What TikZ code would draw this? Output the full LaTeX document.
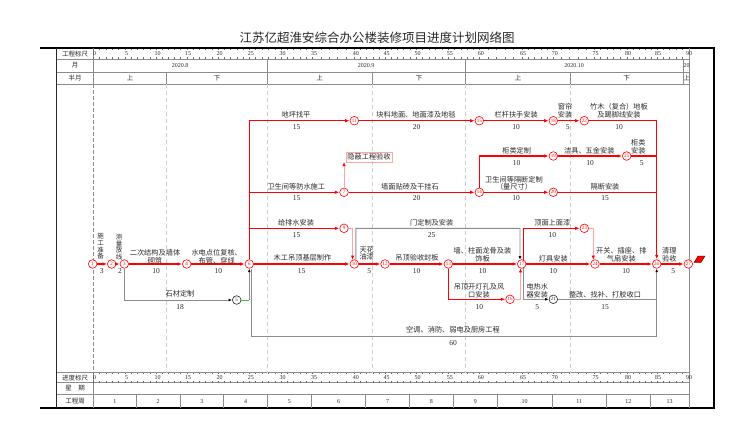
\documentclass[tikz,border=0pt]{standalone}
\usepackage{fontspec}
\setmainfont{Liberation Serif}
\newfontfamily\cjk{Noto Sans CJK SC}
\usetikzlibrary{arrows.meta}
\definecolor{cr}{RGB}{255,0,0}
\definecolor{cg}{RGB}{140,140,140}
\definecolor{cp}{RGB}{255,165,165}
\definecolor{cgrid}{RGB}{205,205,205}
\definecolor{ctx}{RGB}{40,40,40}
\definecolor{cgreen}{RGB}{60,200,60}
\begin{document}
\begin{tikzpicture}[x=1pt,y=-1pt,
  nd/.style={circle,draw=cr,line width=0.6pt,fill=white,minimum size=8.6pt,inner sep=0pt,font=\fontsize{5}{5}\selectfont,text=cr},
  ndg/.style={nd,draw=ctx,text=ctx},
  crit/.style={draw=cr,line width=1.1pt},
  critA/.style={crit,-{Latex[length=4.5pt,width=3.4pt]}},
  ncrit/.style={draw=cg,line width=0.9pt},
  ncritA/.style={ncrit,-{Latex[length=3.5pt,width=2.8pt,color=black]}},
  dummy/.style={draw=cp,line width=0.5pt,-{Latex[length=4pt,width=3.2pt,color=cr]}},
  lab/.style={font=\cjk\fontsize{7.2}{7.6}\selectfont,text=ctx,inner sep=0pt,align=center},
  vlab/.style={font=\cjk\fontsize{6.5}{6.8}\selectfont,text=ctx,inner sep=0pt,align=center},
  dur/.style={font=\fontsize{7.5}{8}\selectfont,text=ctx,inner sep=0pt},
  hdr/.style={font=\cjk\fontsize{6.5}{7}\selectfont,text=ctx,inner sep=0pt},
  rl/.style={font=\fontsize{6}{6}\selectfont,text=ctx,inner sep=0pt},
  tbl/.style={draw=cg,line width=0.5pt},
  grid/.style={draw=cgrid,line width=0.5pt,dash pattern=on 4pt off 3pt},
  tick/.style={draw=ctx!70,line width=0.3pt}
]
\useasboundingbox (0,0) rectangle (750,447);
% title
\node[font=\cjk\fontsize{12.5}{13}\selectfont,text=ctx,inner sep=0pt] (title) at (377,38) {江苏亿超淮安综合办公楼装修项目进度计划网络图};
% frame
\draw[line width=1.8pt,draw=black] (40,48) -- (714,48) -- (714,408) -- (40,408);
\draw[draw=ctx,line width=0.6pt] (56.7,48) -- (56.7,408);
\draw[tbl] (93.3,48) -- (93.3,84.3) (93.3,372.7) -- (93.3,408);
\draw[draw=cg,line width=0.6pt,dash pattern=on 4pt off 2pt] (93.3,84.3) -- (93.3,372.7);
\draw[tbl] (689,48) -- (689,408);
\foreach \yy in {59,72,84.3,372.7,382.7,394.3}{\draw[tbl] (56.7,\yy) -- (689,\yy);}
% month / half-month
\draw[tbl] (267,59) -- (267,84.3) (465.6,59) -- (465.6,84.3) (683,59) -- (683,84.3);
\draw[tbl] (166.7,72) -- (166.7,84.3) (372,72) -- (372,84.3) (570.3,72) -- (570.3,84.3);
\node[rl] (m8) at (180,65.5) {2020.8};
\node[rl] (m9) at (366,65.5) {2020.9};
\node[rl] (m10) at (574,65.5) {2020.10};
\begin{scope}
\clip (683,59) rectangle (689,84.3);
\node[rl,anchor=west] (m11) at (683.5,65.5) {20};
\node[hdr,anchor=west] (h7) at (683.5,78) {上};
\end{scope}
\node[hdr] (h1) at (130,78) {上};
\node[hdr] (h2) at (217,78) {下};
\node[hdr] (h3) at (319.5,78) {上};
\node[hdr] (h4) at (419,78) {下};
\node[hdr] (h5) at (518,78) {上};
\node[hdr] (h6) at (626.7,78) {下};
% left labels
\node[hdr] (t1) at (75,53.6) {工程标尺};
\node[hdr] (t2) at (75,65.5) {月};
\node[hdr] (t3) at (75,78) {半月};
\node[hdr] (t4) at (75,377.8) {进度标尺};
\node[hdr] (t5) at (75,388.5) {星\quad 期};
\node[hdr] (t6) at (75,401.2) {工程周};
% grid
\foreach \gx in {166.7,267,372,465.6,570.3}{\draw[grid] (\gx,84.3) -- (\gx,372.7);}
% rulers
\foreach \a/\b [count=\i from 0] in {93/125,125/156,156/186.7,186.7/218,218/249.3,249.3/281,281/312.5,312.5/354.3,354.3/385,385/416,416/448.3,448.3/479.3,479.3/521.7,521.7/553.3,553.3/594,594/626.7,626.7/656.7,656.7/688.5}{
  \pgfmathtruncatemacro\dd{5*\i}
  \foreach \k in {0,...,4}{
    \pgfmathsetmacro\tx{\a+(\b-\a)*\k/5}
    \draw[tick] (\tx,48.5) -- ++(0,1.6) (\tx,59) -- ++(0,-1.6) (\tx,372.7) -- ++(0,1.6) (\tx,382.7) -- ++(0,-1.6);
  }
  \node[rl] at (\a+1.5,53.8) {\dd};
  \node[rl] at (\a+1.5,377.8) {\dd};
}
\node[rl] (r90) at (689,53.8) {90};
\node[rl] (s90) at (689,377.8) {90};
% weeks
\foreach \a/\b [count=\w] in {93.3/136.3,136.3/179.8,179.8/223.7,223.7/267.5,267.5/311.4,311.4/365.6,365.6/409.4,409.4/453.3,453.3/497.2,497.2/552.1,552.1/606.3,606.3/650.2,650.2/689}{
  \draw[tbl] (\b,394.3) -- (\b,408);
  \node[rl] at ({(\a+\b)/2},401.2) {\w};
}
% nodes
\node[nd] (n1) at (92.7,264) {1};
\node[nd] (n2) at (111.7,264) {2};
\node[nd] (n3) at (124.3,264) {3};
\node[nd] (n4) at (186.7,264) {4};
\node[ndg] (n5) at (236.7,300) {5};
\node[nd] (n6) at (249.3,264) {6};
\node[nd] (n7) at (344,192.3) {7};
\node[nd] (n9) at (344,228.3) {9};
\node[nd] (n10) at (354.3,264) {10};
\node[nd] (n11) at (354.3,120.7) {11};
\node[nd] (n12) at (385,264) {12};
\node[nd] (n13) at (448.3,264) {13};
\node[nd] (n14) at (479.3,192.3) {14};
\node[nd] (n15) at (479.3,120.7) {15};
\node[nd] (n16) at (510,299.3) {16};
\node[nd] (n17) at (521.7,264) {17};
\node[nd] (n18) at (553.3,120.7) {18};
\node[nd] (n19) at (553.3,156) {19};
\node[nd] (n20) at (553.3,192.3) {20};
\node[ndg] (n21) at (553.3,299.3) {21};
\node[nd] (n22) at (584.3,120.7) {22};
\node[nd] (n23) at (584.3,228.3) {23};
\node[nd] (n24) at (595,264) {24};
\node[nd] (n25) at (626.7,156) {25};
\node[nd] (n26) at (656.7,264) {26};
\node[nd] (n27) at (688.3,264) {27};
\node[lab,draw=cp,line width=0.5pt,inner sep=1.3pt] (yb) at (369,157.2) {隐蔽工程验收};
% coordinates
\coordinate (c5) at (249.3,300);
\coordinate (c6a) at (251,269);
\coordinate (c6b) at (251,336);
\coordinate (c26b) at (656.7,336);
\coordinate (c26c) at (656.7,299.3);
\coordinate (c10) at (355.8,228.3);
% red connectors
\draw[critA] (n1) -- (n2);
\draw[critA] (n2) -- (n3);
\draw[critA] (n3) -- (n4);
\draw[critA] (n4) -- (n6);
\draw[critA] (n6) |- (n11);
\draw[critA] (n6) |- (n7);
\draw[critA] (n6) |- (n9);
\draw[critA] (n6) -- (n10);
\draw[critA] (n11) -- (n15);
\draw[critA] (n15) -- (n18);
\draw[critA] (n18) -- (n22);
\draw[critA] (n22) -| (n26);
\draw[critA] (n7) -- (n14);
\draw[critA] (n14) |- (n19);
\draw[critA] (n14) -- (n20);
\draw[critA] (n19) -- (n25);
\draw[crit] (n25) -| (c26b |- n25);
\draw[crit] (n20) -| (c26b |- n20);
\draw[critA] (n10) -- (n12);
\draw[critA] (n12) -- (n13);
\draw[critA] (n13) -- (n17);
\draw[critA] (n13) |- (n16);
\draw[critA] (n17.70) |- (n23);
\draw[critA] (n17) -- (n24);
\draw[critA] (n24) -- (n26);
\draw[critA] (n26) -- (n27);
% gray connectors
\draw[ncritA] (n3) |- (n5);
\draw[draw=cgreen,line width=0.8pt] (n5) -- (c5);
\draw[ncritA] (c5) -- (n6);
\draw[ncrit] (c6a) -- (c6b) -- (c26b) -- (c26c);
\draw[ncritA] (n10.70) -- (c10) -- (c10 -| n17.112) -- (n17.112);
\draw[ncritA] (n17.290) |- (n21);
\draw[ncritA] (n21) -| (n26);
% dummies
\draw[dummy] (n7) -- (n7 |- yb.south);
\draw[dummy] (n9) -| (n10.112);
\draw[dummy] (n16) -| (n17.255);
\draw[dummy] (n23) -| (n24.112);
% end flag
\fill[cr,draw=black,line width=0.3pt] (694,262.5) -- (701,262.5) -- (705,256) -- (698,256) -- cycle;
% labels
\node[vlab] (l1) at (100.7,246.3) {施\\工\\准\\备};
\node[dur] (d1) at (101.7,270.7) {3};
\node[vlab] (l2) at (119,247) {测\\量\\放\\线};
\node[dur] (d2) at (120,270.7) {2};
\node[lab] (l3) at (155,256.8) {二次结构及墙体\\砌筑};
\node[dur] (d3) at (156,270.7) {10};
\node[lab] (l4) at (216.7,256.8) {水电点位复核、\\布管、穿线};
\node[dur] (d4) at (218.3,270.7) {10};
\node[lab] (l5) at (180,293.3) {石材定制};
\node[dur] (d5) at (180,307.3) {18};
\node[lab] (l6) at (302.5,257.7) {木工吊顶基层制作};
\node[dur] (d6) at (301.7,270.7) {15};
\node[lab] (l7) at (296,222.7) {给排水安装};
\node[dur] (d7) at (296.7,235) {15};
\node[lab] (l8) at (296.3,186.7) {卫生间等防水施工};
\node[dur] (d8) at (296.7,198.3) {15};
\node[lab] (l9) at (296,115) {地坪找平};
\node[dur] (d9) at (296.7,126.7) {15};
\node[lab] (l10) at (416,115) {块料地面、地面漆及地毯};
\node[dur] (d10) at (416.7,126.7) {20};
\node[lab] (l11) at (410,186.7) {墙面贴砖及干挂石};
\node[dur] (d11) at (416.7,198.3) {20};
\node[lab] (l12) at (366.7,253.3) {天花\\油漆};
\node[dur] (d12) at (369.3,270.7) {5};
\node[lab] (l13) at (417,257.7) {吊顶验收封板};
\node[dur] (d13) at (416.7,270.7) {10};
\node[lab] (l14) at (431.7,222.7) {门定制及安装};
\node[dur] (d14) at (431.7,235) {25};
\node[lab] (l15) at (482.5,254.7) {墙、柱面龙骨及装\\饰板};
\node[dur] (d15) at (482.7,270.7) {10};
\node[lab] (l16) at (479,290.5) {吊顶开灯孔及风\\口安装};
\node[dur] (d16) at (479.3,306.7) {10};
\node[lab] (l17) at (453,330) {空调、消防、弱电及厨房工程};
\node[dur] (d17) at (453,342.7) {60};
\node[lab] (l18) at (516.2,115) {栏杆扶手安装};
\node[dur] (d18) at (516,126.7) {10};
\node[lab] (l19) at (565,110.5) {窗帘\\安装};
\node[dur] (d19) at (567.7,126.7) {5};
\node[lab] (l20) at (619,110.5) {竹木（复合）地板\\及踢脚线安装};
\node[dur] (d20) at (619,126.7) {10};
\node[lab] (l21) at (516.7,150.7) {柜类定制};
\node[dur] (d21) at (516.7,162.7) {10};
\node[lab] (l22) at (589.3,150.7) {洁具、五金安装};
\node[dur] (d22) at (590,162.7) {10};
\node[lab] (l23) at (638.3,146.7) {柜类\\安装};
\node[dur] (d23) at (641.7,162.7) {5};
\node[lab] (l24) at (514,183.2) {卫生间等隔断定制\\（量尺寸）};
\node[dur] (d24) at (516,198.3) {10};
\node[lab] (l25) at (605,187) {隔断安装};
\node[dur] (d25) at (605,198.3) {15};
\node[lab] (l26) at (552.3,222.7) {顶面上面漆};
\node[dur] (d26) at (552.3,235) {10};
\node[lab] (l27) at (553.3,258.7) {灯具安装};
\node[dur] (d27) at (553.3,270.7) {10};
\node[lab] (l28) at (621.3,254.7) {开关、插座、排\\气扇安装};
\node[dur] (d28) at (626,270.7) {10};
\node[lab] (l29) at (669.3,254.7) {清理\\验收};
\node[dur] (d29) at (673.3,270.7) {5};
\node[lab] (l30) at (537.3,290.8) {电热水\\器安装};
\node[dur] (d30) at (537.3,307) {5};
\node[lab] (l31) at (605,294.3) {整改、找补、打胶收口};
\node[dur] (d31) at (605,307) {15};
\end{tikzpicture}
\end{document}
